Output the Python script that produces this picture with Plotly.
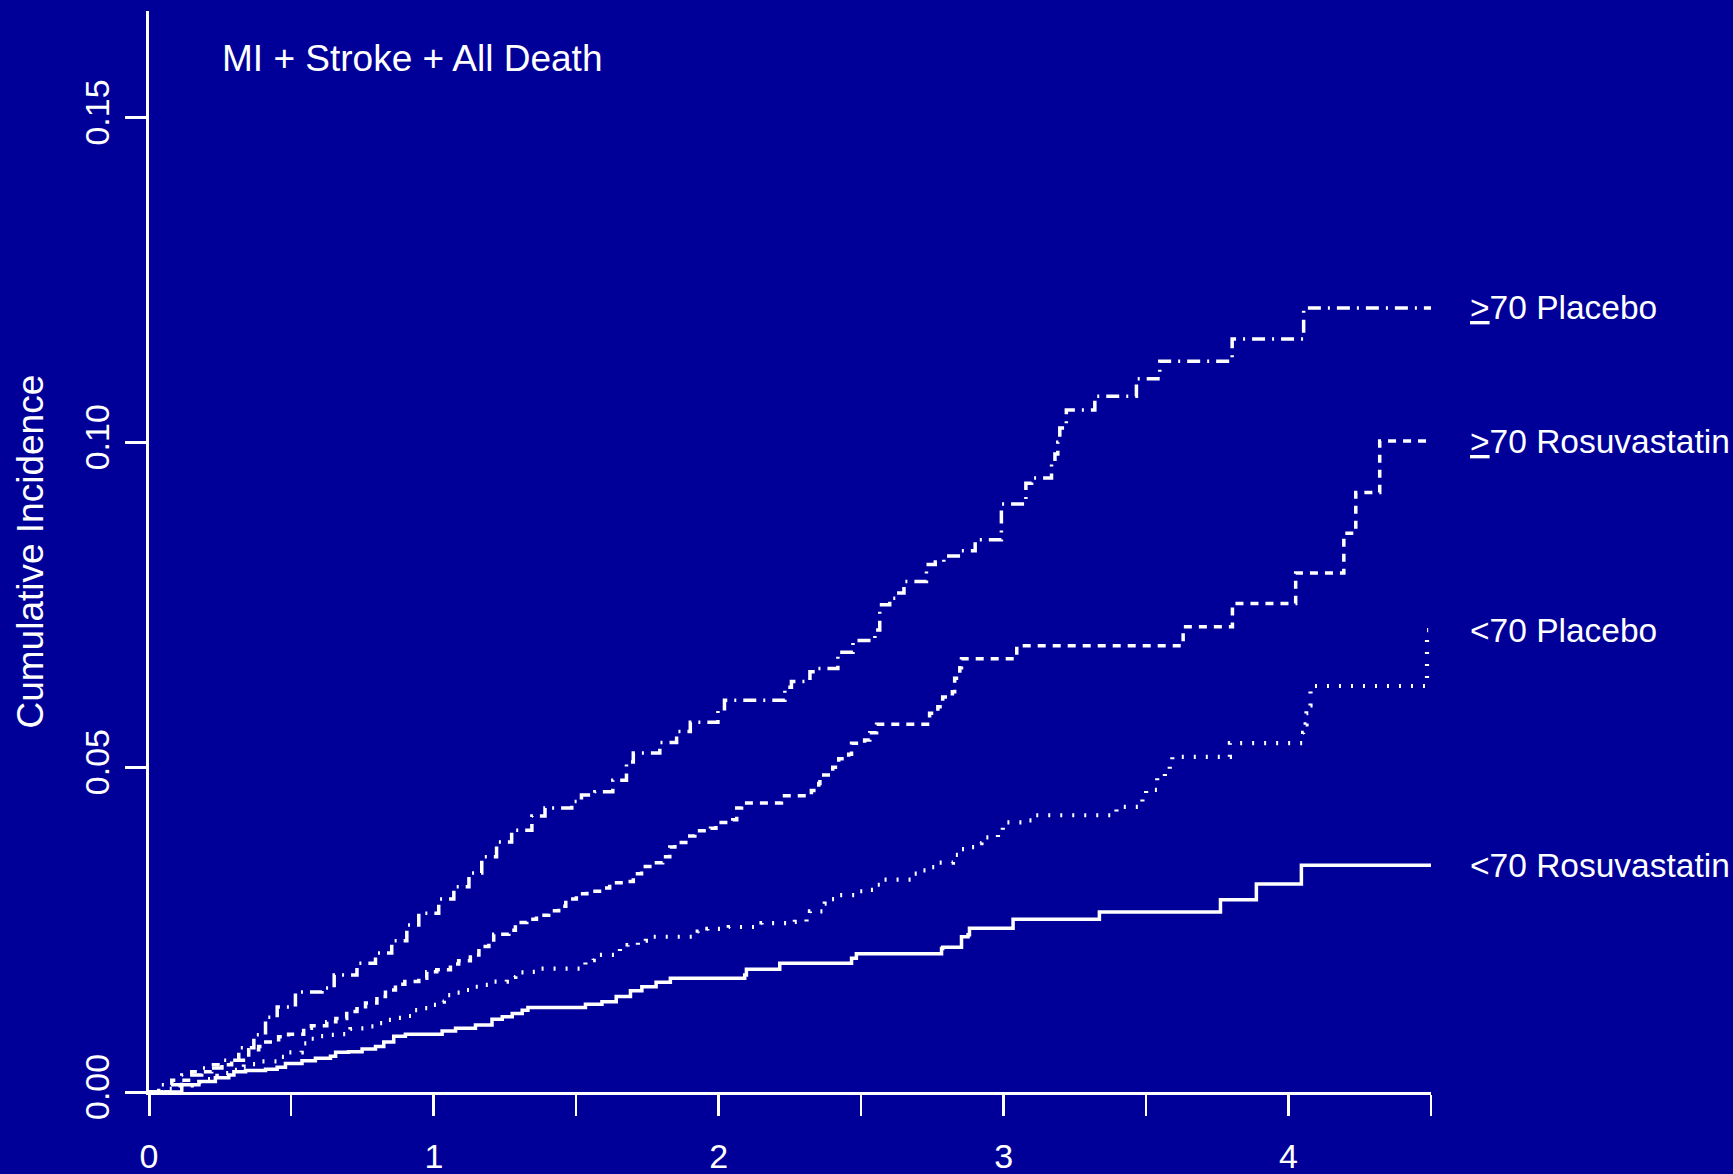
import plotly.graph_objects as go

# ---------------- data ----------------
# >=70 Placebo
p70_t = [0, 0.034, 0.115, 0.185, 0.256, 0.315, 0.368, 0.409, 0.45, 0.514,
         0.607, 0.65, 0.73, 0.795, 0.852, 0.905, 0.947, 1.017, 1.07, 1.123,
         1.168, 1.22, 1.273, 1.344, 1.39, 1.484, 1.518, 1.565, 1.628, 1.676,
         1.70, 1.793, 1.852, 1.90, 1.997, 2.02, 2.232, 2.255, 2.32, 2.337,
         2.418, 2.471, 2.548, 2.565, 2.60, 2.624, 2.65, 2.729, 2.76, 2.79,
         2.85, 2.90, 2.992, 3.078, 3.098, 3.168, 3.18, 3.19, 3.197, 3.22,
         3.32, 3.466, 3.548, 3.802, 4.053, 4.5]
p70_y = [0, 0.0011, 0.0026, 0.0037, 0.0049, 0.0068, 0.0088, 0.0115, 0.0131, 0.0154,
         0.0160, 0.0180, 0.0198, 0.0214, 0.0233, 0.0257, 0.0275, 0.0297, 0.0316, 0.0337,
         0.0362, 0.0385, 0.0403, 0.0425, 0.0437, 0.0447, 0.0457, 0.0462, 0.0480, 0.0508,
         0.0522, 0.0538, 0.0555, 0.0569, 0.0590, 0.0603, 0.0623, 0.0632, 0.0647, 0.0652,
         0.0677, 0.0695, 0.0711, 0.0750, 0.0760, 0.0768, 0.0786, 0.0812, 0.0816, 0.0825,
         0.0833, 0.0850, 0.0905, 0.0937, 0.0945, 0.0968, 0.0982, 0.1000, 0.1022, 0.1050,
         0.1071, 0.1098, 0.1125, 0.1159, 0.1207, 0.1207]

# >=70 Rosuvastatin
r70_t = [0, 0.08, 0.15, 0.22, 0.29, 0.35, 0.385, 0.41, 0.455, 0.49,
         0.543, 0.57, 0.624, 0.656, 0.694, 0.73, 0.76, 0.80, 0.83, 0.865,
         0.898, 0.947, 0.975, 1.01, 1.058, 1.087, 1.128, 1.158, 1.193, 1.21,
         1.263, 1.286, 1.326, 1.36, 1.403, 1.438, 1.463, 1.50, 1.537, 1.589,
         1.617, 1.676, 1.70, 1.729, 1.767, 1.803, 1.828, 1.846, 1.891, 1.916,
         1.971, 1.99, 2.049, 2.063, 2.08, 2.22, 2.325, 2.351, 2.355, 2.40,
         2.421, 2.456, 2.466, 2.512, 2.53, 2.554, 2.74, 2.769, 2.786, 2.82,
         2.828, 2.846, 2.852, 3.046, 3.63, 3.803, 4.025, 4.194, 4.236, 4.32,
         4.5]
r70_y = [0, 0.0018, 0.0031, 0.0042, 0.0049, 0.0065, 0.0070, 0.0077, 0.0085, 0.0089,
         0.0098, 0.0102, 0.0108, 0.0113, 0.0124, 0.0128, 0.0137, 0.0147, 0.0157, 0.0166,
         0.0170, 0.0175, 0.0185, 0.0188, 0.0197, 0.0202, 0.0211, 0.0224, 0.0231, 0.0243,
         0.0249, 0.0261, 0.0266, 0.0272, 0.0279, 0.0286, 0.0297, 0.0305, 0.0309, 0.0314,
         0.0322, 0.0324, 0.0336, 0.0347, 0.0353, 0.0362, 0.0377, 0.0384, 0.0394, 0.0402,
         0.0406, 0.0415, 0.0419, 0.0437, 0.0445, 0.0456, 0.0464, 0.0475, 0.0488, 0.0500,
         0.0513, 0.0520, 0.0537, 0.0542, 0.0553, 0.0566, 0.0583, 0.0593, 0.0608, 0.0616,
         0.0637, 0.0653, 0.0667, 0.0687, 0.0716, 0.0752, 0.0799, 0.0860, 0.0923, 0.1002,
         0.1002]

# <70 Placebo
plt_t = [0, 0.05, 0.10, 0.15, 0.20, 0.24, 0.268, 0.298, 0.333, 0.36,
         0.396, 0.466, 0.49, 0.536, 0.567, 0.60, 0.637, 0.672, 0.707, 0.742,
         0.772, 0.80, 0.835, 0.865, 0.90, 0.922, 0.953, 0.988, 1.01, 1.035,
         1.063, 1.093, 1.128, 1.158, 1.193, 1.256, 1.286, 1.32, 1.357, 1.532,
         1.561, 1.653, 1.68, 1.716, 1.744, 1.926, 1.96, 2.035, 2.15, 2.267,
         2.308, 2.32, 2.372, 2.396, 2.425, 2.49, 2.53, 2.554, 2.576, 2.676,
         2.71, 2.74, 2.764, 2.822, 2.84, 2.875, 2.898, 2.922, 2.98, 2.997,
         3.074, 3.098, 3.378, 3.396, 3.487, 3.50, 3.539, 3.566, 3.583, 3.592,
         3.794, 4.051, 4.06, 4.063, 4.074, 4.077, 4.486, 4.49]
plt_y = [0, 0.0005, 0.0010, 0.0015, 0.0020, 0.0025, 0.0029, 0.0034, 0.0039, 0.0043,
         0.0047, 0.0054, 0.0061, 0.0075, 0.0082, 0.0086, 0.0088, 0.0089, 0.0097, 0.0098,
         0.0101, 0.0106, 0.0111, 0.0114, 0.0117, 0.0126, 0.0129, 0.0134, 0.0139, 0.0149,
         0.0153, 0.0157, 0.0162, 0.0165, 0.0170, 0.0177, 0.0184, 0.0185, 0.0190, 0.0203,
         0.0211, 0.0223, 0.0226, 0.0233, 0.0239, 0.0247, 0.0251, 0.0254, 0.0260, 0.0262,
         0.0266, 0.0278, 0.0290, 0.0297, 0.0303, 0.0309, 0.0311, 0.0319, 0.0327, 0.0336,
         0.0341, 0.0346, 0.0353, 0.0365, 0.0374, 0.0377, 0.0383, 0.0392, 0.0402, 0.0415,
         0.0418, 0.0426, 0.0430, 0.0439, 0.0455, 0.0465, 0.0484, 0.0493, 0.0501, 0.0516,
         0.0537, 0.0553, 0.0566, 0.0583, 0.0595, 0.0625, 0.0711, 0.0711]

# <70 Rosuvastatin
rlt_t = [0, 0.115, 0.175, 0.233, 0.28, 0.298, 0.339, 0.409, 0.45, 0.479,
         0.537, 0.584, 0.637, 0.655, 0.70, 0.748, 0.795, 0.824, 0.859, 0.90,
         1.029, 1.076, 1.146, 1.204, 1.24, 1.275, 1.31, 1.33, 1.532, 1.59,
         1.64, 1.69, 1.73, 1.78, 1.83, 2.091, 2.097, 2.214, 2.466, 2.483,
         2.782, 2.786, 2.852, 2.875, 2.88, 3.033, 3.336, 3.761, 3.887, 4.045,
         4.5]
rlt_y = [0, 0.0011, 0.0016, 0.0022, 0.0026, 0.0031, 0.0033, 0.0035, 0.0038, 0.0044,
         0.0048, 0.0052, 0.0055, 0.0061, 0.0062, 0.0066, 0.0070, 0.0077, 0.0086, 0.0089,
         0.0094, 0.0098, 0.0103, 0.0112, 0.0116, 0.0121, 0.0126, 0.0130, 0.0135, 0.0139,
         0.0147, 0.0156, 0.0162, 0.0169, 0.0175, 0.0180, 0.0189, 0.0198, 0.0206, 0.0213,
         0.0221, 0.0223, 0.0239, 0.0242, 0.0252, 0.0266, 0.0277, 0.0296, 0.0320, 0.0349,
         0.0349]

series_names = ["&gt;70 Placebo", "&gt;70 Rosuvastatin", "&lt;70 Placebo", "&lt;70 Rosuvastatin"]
series_underline = [True, True, False, False]

x_tick_vals = [0, 1, 2, 3, 4]
x_tick_text = ["0", "1", "2", "3", "4"]
y_tick_vals = [0.0, 0.05, 0.10, 0.15]
y_tick_text = ["0.00", "0.05", "0.10", "0.15"]

title_text = "MI + Stroke + All Death"
y_title = "Cumulative Incidence"

# ---------------- figure ----------------
BG = "#000099"
FONT = "Liberation Sans, Arial, Helvetica, sans-serif"

series = [(p70_t, p70_y), (r70_t, r70_y), (plt_t, plt_y), (rlt_t, rlt_y)]
dashes = ["13px,7px,2px,7px", "8px,7px", "2px,10px", "solid"]
widths = [3.5, 3.5, 4.2, 3.5]

fig = go.Figure()
for (t, y), d, w, nm in zip(series, dashes, widths, series_names):
    fig.add_trace(go.Scatter(
        x=t, y=y, mode="lines", line_shape="hv",
        line=dict(color="white", width=w, dash=d),
        name=nm, hoverinfo="skip"))

annotations = []
for (t, y), nm, ul in zip(series, series_names, series_underline):
    txt = ("<u>" + nm[:4] + "</u>" + nm[4:]) if ul else nm
    annotations.append(dict(
        x=1.0285, y=y[-1], xref="paper", yref="y", text=txt, showarrow=False,
        xanchor="left", yanchor="middle",
        font=dict(size=33.5, color="white", family=FONT)))

annotations.append(dict(
    x=0.0555, y=0.9565, xref="paper", yref="paper", text=title_text,
    showarrow=False, xanchor="left", yanchor="middle",
    font=dict(size=37, color="white", family=FONT)))
annotations.append(dict(
    x=-0.0928, y=0.5, xref="paper", yref="paper", text=y_title,
    showarrow=False, xanchor="center", yanchor="middle", textangle=-90,
    font=dict(size=37, color="white", family=FONT)))

fig.update_layout(
    width=1733, height=1174,
    margin=dict(l=149, r=302, t=11, b=82, pad=0, autoexpand=False),
    paper_bgcolor=BG, plot_bgcolor=BG,
    showlegend=False,
    font=dict(family=FONT, color="white"),
    annotations=annotations,
    xaxis=dict(
        range=[0, 4.5], showgrid=False, zeroline=False, automargin=False,
        showline=True, linecolor="white", linewidth=3,
        ticks="outside", ticklen=21, tickwidth=3, tickcolor="white",
        tickvals=x_tick_vals, ticktext=x_tick_text,
        tickfont=dict(size=34, color="white", family=FONT),
        minor=dict(dtick=0.5, tick0=0, ticks="outside", ticklen=21,
                   tickwidth=2, tickcolor="white", showgrid=False),
        ticklabelstandoff=11,
    ),
    yaxis=dict(
        range=[0, 0.1664], showgrid=False, zeroline=False, automargin=False,
        showline=True, linecolor="white", linewidth=3,
        ticks="outside", ticklen=21, tickwidth=3, tickcolor="white",
        tickvals=y_tick_vals, ticktext=y_tick_text, tickangle=-90,
        tickfont=dict(size=34, color="white", family=FONT),
        ticklabelstandoff=2,
    ),
)

fig.write_html(
    "out.html",
    config={"displayModeBar": False},
    post_script="document.body.style.margin='0px';"
                "document.body.style.background='" + BG + "';"
                "document.documentElement.style.background='" + BG + "';",
)
